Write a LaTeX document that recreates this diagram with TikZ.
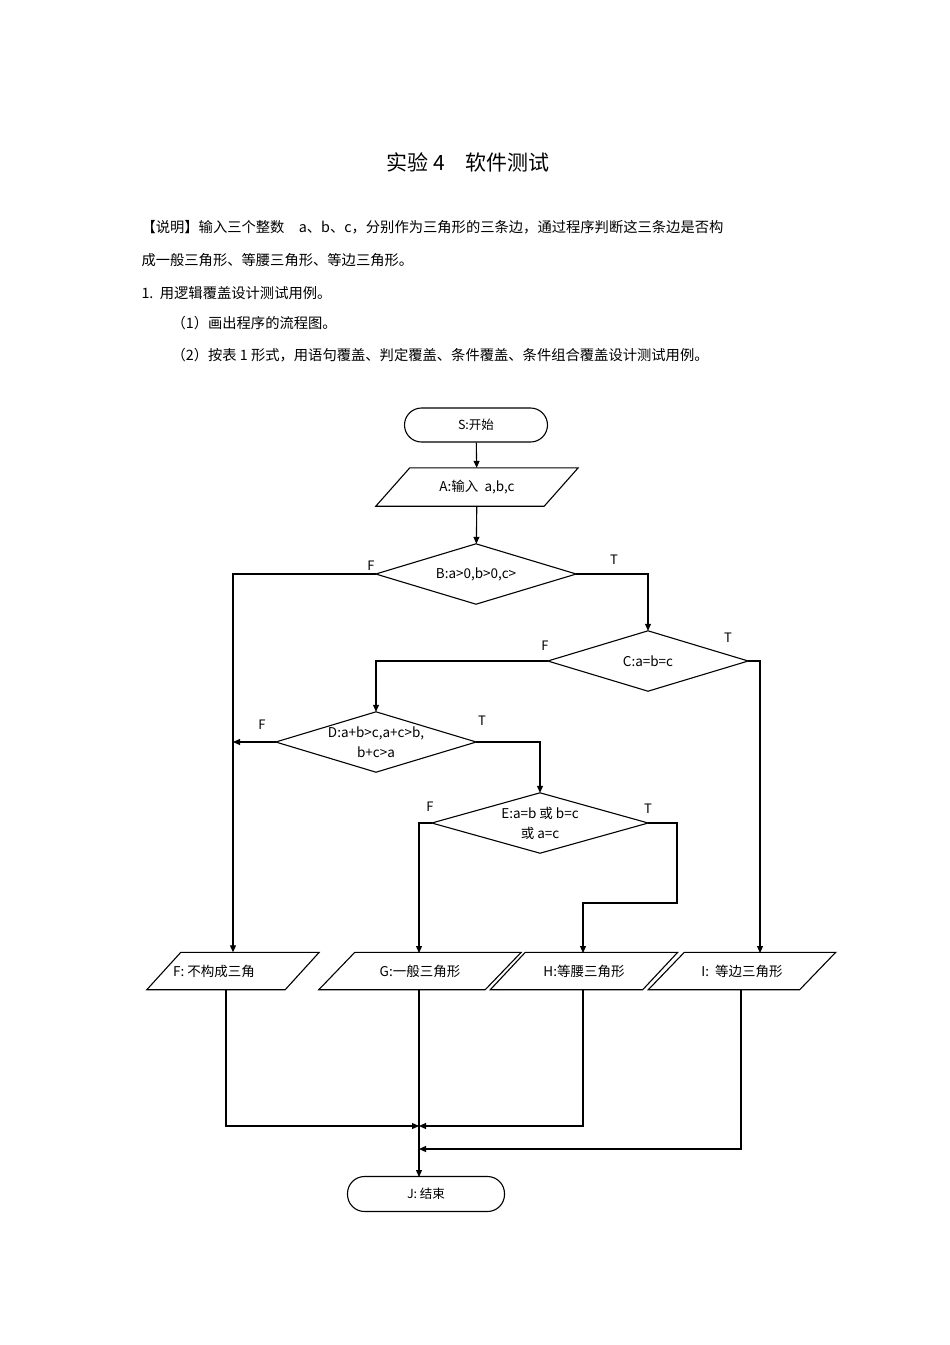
\documentclass[tikz,border=0pt]{standalone}
\usepackage{fontspec}
\setmainfont{Noto Sans CJK SC}
\usetikzlibrary{arrows.meta}
\newcommand{\dmd}[1]{\draw[shp] (#1.west) -- (#1.north) -- (#1.east) -- (#1.south) -- cycle;}
\newcommand{\plg}[2]{\draw[shp] ([xshift=#2pt]#1.north west) -- (#1.north east) -- ([xshift=-#2pt]#1.south east) -- (#1.south west) -- cycle;}
\begin{document}
\begin{tikzpicture}[x=1pt,y=-1pt,
  shp/.style={line width=1.1pt},
  line/.style={draw, line width=1.1pt},
  arr/.style={line, -{Triangle[length=7pt,width=6pt]}},
  term/.style={draw, line width=1.1pt, rounded corners=17pt, font=\fontsize{12.5}{14}\selectfont},
  box/.style={rectangle, inner sep=0pt, font=\fontsize{13.5}{15}\selectfont},
  lab/.style={font=\fontsize{13}{15}\selectfont},
  body/.style={anchor=west, font=\fontsize{14.3}{16}\selectfont}]
\useasboundingbox (0,0) rectangle (950,1345);
\node[font=\fontsize{21}{24}\selectfont] (title) at (468,162) {实验 4\quad 软件测试};
\node[body] (t1) at (138,227) {【说明】输入三个整数\quad a、b、c，分别作为三角形的三条边，通过程序判断这三条边是否构};
\node[body] (t2) at (138,260) {成一般三角形、等腰三角形、等边三角形。};
\node[body] (t3) at (138,293) {1.\ \ 用逻辑覆盖设计测试用例。};
\node[body] (t4) at (168,323) {（1）画出程序的流程图。};
\node[body] (t5) at (168,355) {（2）按表 1 形式，用语句覆盖、判定覆盖、条件覆盖、条件组合覆盖设计测试用例。};

\node[term, minimum width=143pt, minimum height=34pt] (S) at (476,425) {S:开始};
\node[box, minimum width=202pt, minimum height=38pt] (A) at (477,487) {A:输入\ \ a,b,c};
\plg{A}{34}
\node[box, minimum width=200pt, minimum height=60pt] (B) at (476,574) {B:a>0,b>0,c>};
\dmd{B}
\node[box, minimum width=200pt, minimum height=60pt] (C) at (648,661) {C:a=b=c};
\dmd{C}
\node[box, minimum width=200pt, minimum height=60pt, align=center] (D) at (376,742) {D:a+b>c,a+c>b,\\[5pt]b+c>a};
\dmd{D}
\node[box, minimum width=216pt, minimum height=60pt, align=center] (E) at (540,823) {E:a=b 或 b=c\\[5pt]或 a=c};
\dmd{E}
\node[box, minimum width=172pt, minimum height=37pt] (F) at (233,971) {};
\plg{F}{34}
\node[box, anchor=west] (Ft) at (173,971) {F: 不构成三角};
\node[box, minimum width=202pt, minimum height=37pt] (G) at (420,971) {G:一般三角形};
\plg{G}{36}
\node[box, minimum width=187pt, minimum height=37pt] (H) at (584,971) {H:等腰三角形};
\plg{H}{35}
\node[box, minimum width=187pt, minimum height=37pt] (I) at (742,971) {I:\ \ 等边三角形};
\plg{I}{36}
\node[term, minimum width=157pt, minimum height=35pt] (J) at (426,1194) {J: 结束};

\coordinate (dF) at (233,742);
\coordinate (m1) at (419,1126);
\coordinate (m2) at (419,1149);

\draw[arr] (S) -- (A);
\draw[arr] (A) -- (B);
\draw[arr] (B.west) -| (F.north);
\draw[arr] (B.east) -| (C.north);
\draw[arr] (C.west) -| (D.north);
\draw[arr] (C.east) -| (760,953);
\draw[arr] (D.west) -- (dF);
\draw[arr] (D.east) -| (E.north);
\draw[arr] (E.west) -| (419,953);
\draw[arr] (E.east) -| (677,903) -| (583,953);
\draw[arr] (226,989) |- (m1);
\draw[arr] (583,989) |- (m1);
\draw[arr] (741,989) |- (m2);
\draw[arr] (419,989) -- (419,1177);

\node[lab] at (371,566) {F};
\node[lab] at (614,560) {T};
\node[lab] at (545,646) {F};
\node[lab] at (728,638) {T};
\node[lab] at (262,725) {F};
\node[lab] at (482,721) {T};
\node[lab] at (430,807) {F};
\node[lab] at (648,809) {T};
\end{tikzpicture}
\end{document}
